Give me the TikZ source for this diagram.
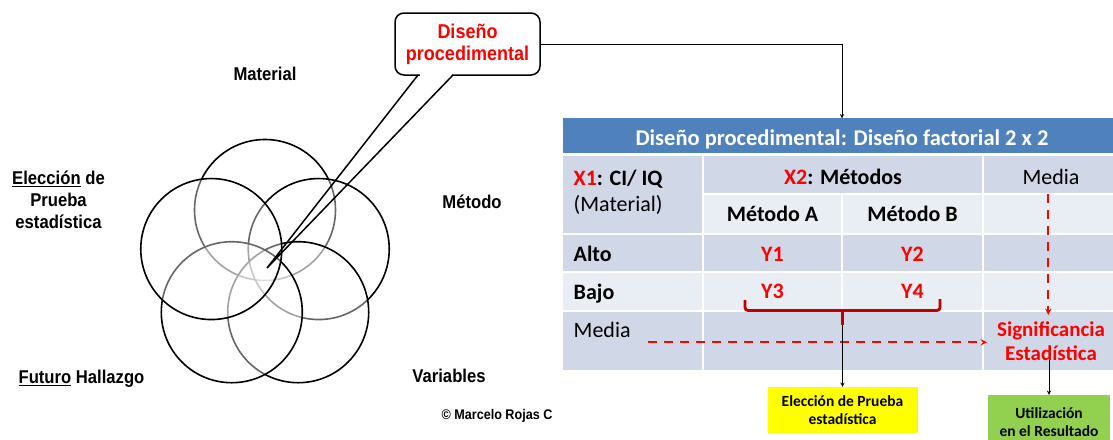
\documentclass[tikz,border=0pt]{standalone}
\usepackage{fontspec}
\setmainfont{Carlito}
\newfontfamily\narrowfont[FakeStretch=0.9]{Liberation Sans}
\definecolor{hdrblue}{RGB}{79,129,189}
\definecolor{rowdark}{RGB}{208,216,232}
\definecolor{rowlight}{RGB}{233,237,244}
\definecolor{bracered}{RGB}{192,0,0}
\definecolor{testyellow}{RGB}{255,255,0}
\definecolor{usegreen}{RGB}{146,208,80}

\begin{document}
\begin{tikzpicture}[x=1pt,y=-1pt,>=stealth,
  petal/.style={draw=black,line width=1.6pt,fill=white,fill opacity=.4},
  lbl/.style={font=\narrowfont\bfseries\fontsize{18.5}{21.7}\selectfont,align=center,inner sep=0pt,anchor=base},
  tcell/.style={font=\fontsize{22}{26}\selectfont,inner sep=0pt,anchor=base},
  redval/.style={tcell,font=\fontsize{22}{26}\selectfont\bfseries,text=red},
  note/.style={font=\fontsize{15.5}{17.3}\selectfont\bfseries,align=center,inner sep=0pt},
  reddash/.style={red,line width=1.8pt,dash pattern=on 9pt off 7pt,->}]
\useasboundingbox (0,0) rectangle (1113,439);
% flower of five circles
\coordinate (hub) at (265,266.5);
\foreach \a in {-90,-18,54,126,198} {\draw[petal] (hub) ++(\a:56.5) circle[radius=70.5];}
\node[lbl] (material) at (265,80.7) {Material};
\node[lbl] (eleccion) at (58.5,228.3) {\underline{Elección} de\\Prueba\\estadística};
\node[lbl] (metodo) at (472,208.3) {Método};
\node[lbl] (futuro) at (81.5,383.3) {\underline{Futuro} Hallazgo};
\node[lbl] (variables) at (449,382.7) {Variables};
\node[lbl,font=\narrowfont\bfseries\fontsize{14}{16}\selectfont] (autor) at (497,419.3) {© Marcelo Rojas C};
% callout
\node[draw,line width=1.5pt,rounded corners=9pt,fill=white,minimum width=145pt,minimum height=62pt,
  font=\narrowfont\bfseries\fontsize{20}{24}\selectfont,text=red,align=center] (callout) at (467.5,44) {\raisebox{-2pt}{Diseño}\\procedimental};
\coordinate (tailL) at (418,75);
\coordinate (tailR) at (453,75);
\coordinate (tip) at (267,268);
\fill[white] (419.5,72) rectangle (451.5,78);
\draw[line width=1.5pt] (tailL) -- (tip) -- (tailR);
% table
\foreach \xa/\ya/\xb/\yb/\c in {563/118.3/1113/153.3/hdrblue,
  563/155.5/702/232.5/rowdark, 704/155.5/981.5/192.5/rowdark, 983.5/155.5/1113/192.5/rowdark,
  704/194.5/841/232.5/rowlight, 843/194.5/981.5/232.5/rowlight, 983.5/194.5/1113/232.5/rowlight,
  563/234.5/702/271/rowdark, 704/234.5/841/271/rowdark, 843/234.5/981.5/271/rowdark, 983.5/234.5/1113/271/rowdark,
  563/273/702/309.5/rowlight, 704/273/841/309.5/rowlight, 843/273/981.5/309.5/rowlight, 983.5/273/1113/309.5/rowlight,
  563/311.5/702/369.5/rowdark, 704/311.5/981.5/369.5/rowdark, 983.5/311.5/1113/369.5/rowdark}
  {\fill[\c] (\xa,\ya) rectangle (\xb,\yb);}
\node[tcell,font=\fontsize{22.5}{26}\selectfont\bfseries,text=white] (hdr) at (842,145) {Diseño procedimental: Diseño factorial 2 x 2};
\node[tcell,anchor=base west] (x1) at (573.5,185.7) {\bfseries\textcolor{red}{X1}: CI/ IQ};
\node[tcell,anchor=base west] (x1mat) at (573.5,211.7) {(Material)};
\node[tcell] (x2) at (843,184) {\bfseries\textcolor{red}{X2}: Métodos};
\node[tcell] (mediaT) at (1051,184) {Media};
\node[tcell] (metA) at (772.5,221.7) {\bfseries Método A};
\node[tcell] (metB) at (912.5,221.7) {\bfseries Método B};
\node[tcell,anchor=base west] (alto) at (573.5,261.5) {\bfseries Alto};
\node[redval] (y1) at (772.5,261.5) {Y1};
\node[redval] (y2) at (912.5,261.5) {Y2};
\node[tcell,anchor=base west] (bajo) at (573.5,299) {\bfseries Bajo};
\node[redval] (y3) at (772.5,298.5) {Y3};
\node[redval] (y4) at (912.5,298.5) {Y4};
\node[tcell,anchor=base west] (mediaL) at (573.5,337.7) {Media};
\node[tcell,font=\fontsize{21}{23.3}\selectfont\bfseries,text=red,align=center] (sig) at (1051,360) {Significancia\\Estadística};
% bracket under Y3 and Y4
\draw[bracered,line width=2.8pt,rounded corners=3pt] (745,300) -- (745,310.5) -- (940,310.5) -- (940,299);
\coordinate (tickTop) at (842.5,310.5);
\coordinate (tick) at (842.5,325);
\draw[bracered,line width=2.8pt] (tickTop) -- (tick);
% dashed paths
\coordinate (vdTop) at (1048.3,194);
\coordinate (vdEnd) at (1048.3,315);
\coordinate (hdStart) at (648,342.3);
\coordinate (hdEnd) at (987,342.3);
\draw[reddash] (vdTop) -- (vdEnd);
\draw[reddash] (hdStart) -- (hdEnd);
% result boxes
\node[note,fill=testyellow,minimum width=150pt,minimum height=46pt] (choice) at (842.5,410) {Elección de Prueba\\estadística};
\node[note,fill=usegreen,minimum width=122pt,minimum height=54pt] (use) at (1049,422) {Utilización\\en el Resultado};
\coordinate (hdrtop) at (842,118.3);
\draw[->,line width=.9pt] (callout.east) -| (hdrtop);
\draw[->,line width=.9pt] (tick) -- (choice.north);
\draw[->,line width=.9pt] (use.north |- sig.south) -- (use.north);
\end{tikzpicture}
\end{document}
